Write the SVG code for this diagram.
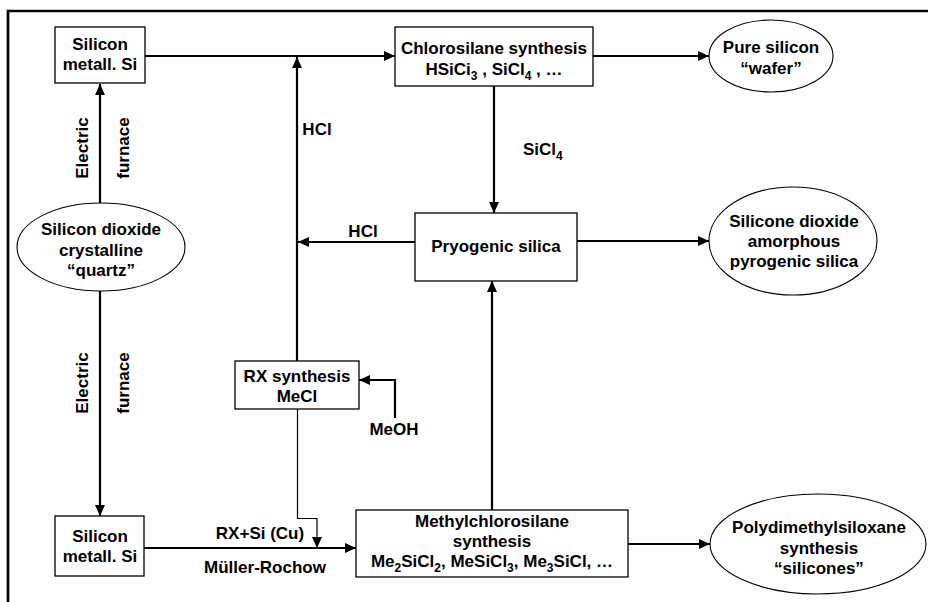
<svg xmlns="http://www.w3.org/2000/svg" width="928" height="602" viewBox="0 0 928 602">
<style>
text{font-family:"Liberation Sans",Arial,sans-serif;font-weight:bold;font-size:17px;fill:#000;text-anchor:middle}
.box{fill:#fff;stroke:#000;stroke-width:1.3}
.ell{fill:#fff;stroke:#000;stroke-width:1.1}
.c{fill:none;stroke:#000;stroke-width:2.2}
.thin{fill:none;stroke:#000;stroke-width:1.2}
.frame{fill:none;stroke:#000;stroke-width:2.7}
.sub{font-size:12px}
</style>
<defs>
<marker id="ah" markerUnits="userSpaceOnUse" markerWidth="11" markerHeight="10" refX="11" refY="5" orient="auto">
<path d="M0,0 L11,5 L0,10 z" fill="#000"/>
</marker>
</defs>
<path class="frame" d="M8,602 V11 H928"/>
<g id="connectors">
<path class="c" d="M145,56 H395" marker-end="url(#ah)"/>
<path class="c" d="M297,361 V57" marker-end="url(#ah)"/>
<path class="c" d="M100,204 V84" marker-end="url(#ah)"/>
<path class="c" d="M100,291 V516" marker-end="url(#ah)"/>
<path class="c" d="M415,242 H298" marker-end="url(#ah)"/>
<path class="c" d="M494,86 V213" marker-end="url(#ah)"/>
<path class="c" d="M593,56 H709" marker-end="url(#ah)"/>
<path class="c" d="M577,241 H709" marker-end="url(#ah)"/>
<path class="c" d="M492,510 V281" marker-end="url(#ah)"/>
<path class="c" d="M395,418 V380 H359" marker-end="url(#ah)"/>
<path class="thin" d="M297.5,409 V518.5 H317 V548" marker-end="url(#ah)"/>
<path class="c" d="M144,548 H356" marker-end="url(#ah)"/>
<path class="c" d="M628,544 H710" marker-end="url(#ah)"/>
<text x="317" y="135">HCl</text>
<text x="363" y="237">HCl</text>
<text x="523" y="155" style="text-anchor:start">SiCl<tspan class="sub" dy="5">4</tspan></text>
<text transform="translate(88,148) rotate(-90)">Electric</text>
<text transform="translate(129,148) rotate(-90)">furnace</text>
<text transform="translate(88,383) rotate(-90)">Electric</text>
<text transform="translate(129,383) rotate(-90)">furnace</text>
<text x="394" y="435">MeOH</text>
<text x="260" y="539">RX+Si (Cu)</text>
<text x="265" y="573">Müller-Rochow</text>
</g>
<g id="silicon-top">
<rect class="box" x="55" y="27" width="90" height="56"/>
<text x="100" y="50">Silicon</text>
<text x="100" y="70">metall. Si</text>
</g>
<g id="chlorosilane">
<rect class="box" x="395" y="27" width="198" height="59"/>
<text x="494" y="54">Chlorosilane synthesis</text>
<text x="494" y="75">HSiCi<tspan class="sub" dy="5">3</tspan><tspan dy="-5"> , SiCl</tspan><tspan class="sub" dy="5">4</tspan><tspan dy="-5"> , …</tspan></text>
</g>
<g id="pure-silicon">
<ellipse class="ell" cx="771" cy="56" rx="62" ry="36"/>
<text x="771" y="53">Pure silicon</text>
<text x="771" y="74">“wafer”</text>
</g>
<g id="silicon-dioxide">
<ellipse class="ell" cx="101" cy="247" rx="84" ry="44"/>
<text x="101" y="235">Silicon dioxide</text>
<text x="101" y="256">crystalline</text>
<text x="101" y="276">“quartz”</text>
</g>
<g id="pyrogenic">
<rect class="box" x="415" y="213" width="162" height="68"/>
<text x="496" y="252">Pryogenic silica</text>
</g>
<g id="silicone-dioxide">
<ellipse class="ell" cx="793" cy="241" rx="84" ry="54"/>
<text x="794" y="227">Silicone dioxide</text>
<text x="794" y="247">amorphous</text>
<text x="794" y="267">pyrogenic silica</text>
</g>
<g id="rx-synthesis">
<rect class="box" x="235" y="361" width="124" height="48"/>
<text x="297" y="382">RX synthesis</text>
<text x="297" y="402">MeCl</text>
</g>
<g id="silicon-bottom">
<rect class="box" x="55" y="516" width="89" height="60"/>
<text x="100" y="542">Silicon</text>
<text x="100" y="562">metall. Si</text>
</g>
<g id="methylchlorosilane">
<rect class="box" x="356" y="510" width="272" height="67"/>
<text x="492" y="527">Methylchlorosilane</text>
<text x="492" y="547">synthesis</text>
<text x="492" y="567">Me<tspan class="sub" dy="5">2</tspan><tspan dy="-5">SiCl</tspan><tspan class="sub" dy="5">2</tspan><tspan dy="-5">, MeSiCl</tspan><tspan class="sub" dy="5">3</tspan><tspan dy="-5">, Me</tspan><tspan class="sub" dy="5">3</tspan><tspan dy="-5">SiCl, …</tspan></text>
</g>
<g id="polydimethylsiloxane">
<ellipse class="ell" cx="818" cy="544" rx="108" ry="50"/>
<text x="819" y="533">Polydimethylsiloxane</text>
<text x="819" y="554">synthesis</text>
<text x="819" y="574">“silicones”</text>
</g>
</svg>
